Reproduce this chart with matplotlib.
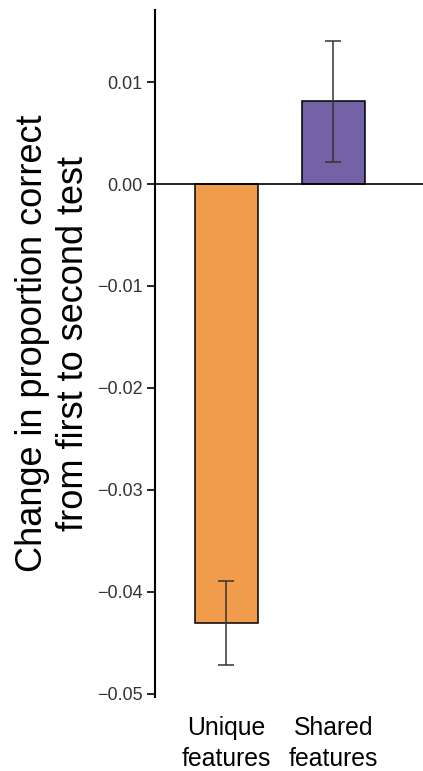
import matplotlib
matplotlib.use("Agg")
import matplotlib.pyplot as plt

plt.rcParams["font.family"] = ["Liberation Sans", "DejaVu Sans"]

categories = ["Unique\nfeatures", "Shared\nfeatures"]
changes = [-0.0430, 0.0081]
err_low = [-0.0472, 0.0022]
err_high = [-0.0389, 0.0140]
colors = ["#F09C4A", "#7462A6"]
yticks = [-0.05, -0.04, -0.03, -0.02, -0.01, 0.00, 0.01]


def main():
    fig = plt.figure(figsize=(4.23, 7.71), dpi=100)
    ax = fig.add_axes([0.3664, 0.096, 0.6336, 0.891])

    xs = [1, 2]
    ax.bar(xs, changes, width=0.59, color=colors, edgecolor="black",
           linewidth=1.1, zorder=2)
    lower = [c - lo for c, lo in zip(changes, err_low)]
    upper = [hi - c for c, hi in zip(changes, err_high)]
    ax.errorbar(xs, changes, yerr=[lower, upper], fmt="none",
                ecolor="#333333", elinewidth=1.1, capsize=6, capthick=1.1,
                zorder=3)
    ax.axhline(0, color="black", linewidth=1.2, zorder=4)

    ax.set_xlim(0.332, 2.84)
    ax.set_ylim(-0.0503, 0.01706)
    ax.set_yticks(yticks)
    ax.set_yticklabels(["\u22120.05", "\u22120.04", "\u22120.03", "\u22120.02",
                        "\u22120.01", "0.00", "0.01"])
    ax.set_xticks(xs)
    ax.set_xticklabels(categories, fontsize=17.8, color="black",
                       linespacing=1.35)

    ax.tick_params(axis="y", direction="out", length=6, width=1.2,
                   labelsize=13, labelcolor="#333333", pad=3)
    ax.tick_params(axis="x", length=0, pad=14)

    for side in ["top", "right", "bottom"]:
        ax.spines[side].set_visible(False)
    ax.spines["left"].set_linewidth(1.5)

    ax.set_ylabel("Change in proportion correct\nfrom first to second test",
                  fontsize=26, linespacing=1.22)
    ax.yaxis.set_label_coords(-0.24, 0.515)

    fig.savefig("out.png", dpi=100)


if __name__ == "__main__":
    main()
